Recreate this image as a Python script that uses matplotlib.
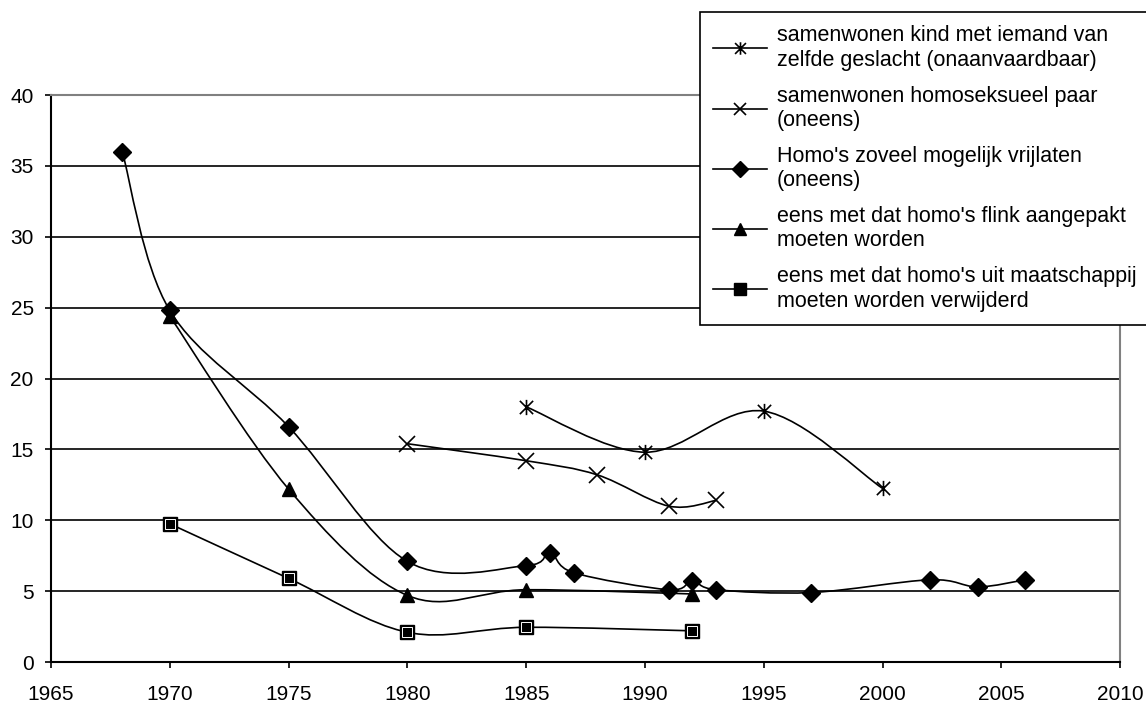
import numpy as np
import matplotlib.pyplot as plt
from matplotlib.path import Path
from matplotlib.patches import PathPatch
from matplotlib.lines import Line2D

plt.rcParams['font.family'] = ['Liberation Sans', 'DejaVu Sans']

# data
jaren_kind = [1985, 1990, 1995, 2000]
kind = [18.0, 14.8, 17.7, 12.25]

jaren_paar = [1980, 1985, 1988, 1991, 1993]
paar = [15.4, 14.2, 13.2, 11.0, 11.4]

jaren_vrij = [1968, 1970, 1975, 1980, 1985, 1986, 1987, 1991, 1992, 1993, 1997, 2002, 2004, 2006]
vrij = [36.0, 24.8, 16.6, 7.1, 6.8, 7.7, 6.3, 5.1, 5.7, 5.1, 4.9, 5.8, 5.3, 5.8]

jaren_flink = [1970, 1975, 1980, 1985, 1992]
flink = [24.4, 12.2, 4.7, 5.1, 4.8]

jaren_weg = [1970, 1975, 1980, 1985, 1992]
weg = [9.75, 5.9, 2.1, 2.45, 2.2]

labels = ["samenwonen kind met iemand van\nzelfde geslacht (onaanvaardbaar)",
          "samenwonen homoseksueel paar\n(oneens)",
          "Homo's zoveel mogelijk vrijlaten\n(oneens)",
          "eens met dat homo's flink aangepakt\nmoeten worden",
          "eens met dat homo's uit maatschappij\nmoeten worden verwijderd"]

# asterisk like excel: x plus vertical bar
ster = Path([(-1, -1), (1, 1), (-1, 1), (1, -1), (0, -1.15), (0, 1.15)],
            [Path.MOVETO, Path.LINETO, Path.MOVETO, Path.LINETO, Path.MOVETO, Path.LINETO])


def smooth_path(xs, ys):
    # excel style smoothed line: bezier segments through the points
    p = np.column_stack([xs, ys]).astype(float)
    n = len(p)
    verts = [p[0]]
    codes = [Path.MOVETO]
    for i in range(n - 1):
        a = p[i - 1] if i > 0 else p[i]
        d = p[i + 2] if i + 2 < n else p[i + 1]
        c1 = p[i] + (p[i + 1] - a) / 6
        c2 = p[i + 1] - (d - p[i]) / 6
        verts += [c1, c2, p[i + 1]]
        codes += [Path.CURVE4] * 3
    return Path(verts, codes)


fig = plt.figure(figsize=(11.46, 7.06), dpi=100)
ax = fig.add_axes([0.0445, 0.0623, 0.9329, 0.8031])

for xs, ys in [(jaren_kind, kind), (jaren_paar, paar), (jaren_vrij, vrij),
               (jaren_flink, flink), (jaren_weg, weg)]:
    ax.add_patch(PathPatch(smooth_path(xs, ys), facecolor='none', edgecolor='black', lw=1.2, zorder=3))

ax.plot(jaren_kind, kind, ls='none', marker=ster, ms=11, mfc='none', mec='black', mew=1.2, zorder=4)
ax.plot(jaren_paar, paar, ls='none', marker='x', ms=11, mec='black', mew=1.2, zorder=4)
ax.plot(jaren_vrij, vrij, ls='none', marker='D', ms=9, color='black', zorder=4)
ax.plot(jaren_flink, flink, ls='none', marker='^', ms=10, color='black', zorder=4)
ax.plot(jaren_weg, weg, ls='none', marker='s', ms=9.5, mfc='black', mec='black', zorder=4)
ax.plot(jaren_weg, weg, ls='none', marker='s', ms=7, mfc='none', mec='white', mew=0.7, zorder=5)

ax.set_xlim(1965, 2010)
ax.set_ylim(0, 40)
ax.set_xticks(range(1965, 2011, 5))
ax.set_yticks(range(0, 41, 5))
ax.yaxis.grid(True, color='black', lw=1.2)
ax.set_axisbelow(True)
ax.tick_params(direction='out', length=4.5, width=1.2, labelsize=15, colors='black')
ax.tick_params(axis='x', pad=12)
ax.tick_params(axis='y', pad=8)
for k in ['left', 'bottom']:
    ax.spines[k].set_linewidth(1.5)
for k in ['top', 'right']:
    ax.spines[k].set_color('#808080')
    ax.spines[k].set_linewidth(1.5)

handles = [
    Line2D([], [], color='black', lw=1.2, marker=ster, ms=9, mfc='none', mec='black', mew=1.2),
    Line2D([], [], color='black', lw=1.2, marker='x', ms=9, mew=1.2),
    Line2D([], [], color='black', lw=1.2, marker='D', ms=8),
    Line2D([], [], color='black', lw=1.2, marker='^', ms=9),
    Line2D([], [], color='black', lw=1.2, marker='s', ms=8),
]
# legend runs off the right edge of the picture, as in the original
leg = fig.legend(handles, labels, loc='upper left', bbox_to_anchor=(0.6108, 0.983, 0.45, 0.0),
                 mode='expand', fontsize=15.5, frameon=True, fancybox=False, edgecolor='black',
                 framealpha=1, handlelength=2.5, handletextpad=0.45, labelspacing=0.7,
                 borderpad=0.62, borderaxespad=0)
leg.get_frame().set_linewidth(1.2)

fig.savefig('out.png', dpi=100)
